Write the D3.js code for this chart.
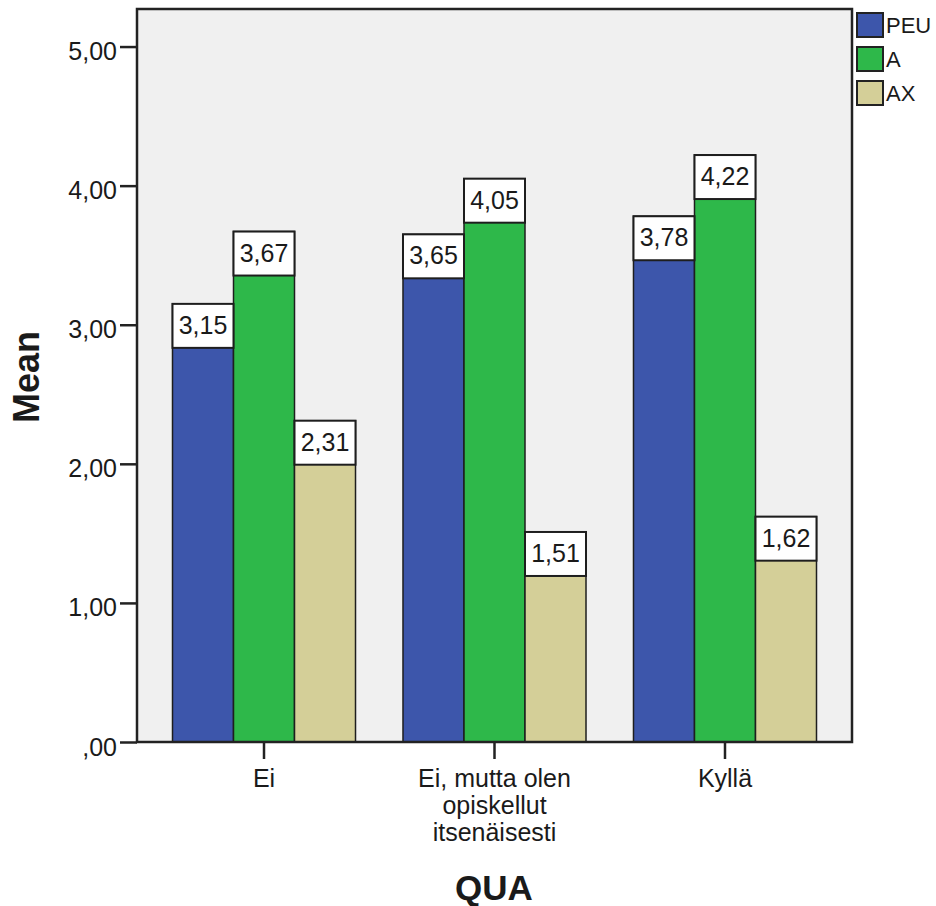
<!DOCTYPE html>
<html>
<head>
<meta charset="utf-8">
<script src="https://cdn.jsdelivr.net/npm/d3@7"></script>
<style>
  body { margin: 0; background: #fff; }
  text { font-family: "Liberation Sans", Arial, sans-serif; fill: #1a1a1a; }
</style>
</head>
<body>
<svg id="chart" width="936" height="906"></svg>
<script>
const categories = [["Ei"], ["Ei, mutta olen", "opiskellut", "itsenäisesti"], ["Kyllä"]];
const categoryKeys = ["Ei", "Ei, mutta olen opiskellut itsenäisesti", "Kyllä"];
const seriesNames = ["PEU", "A", "AX"];
const seriesColors = ["#3d56ab", "#2eb84a", "#d4cf98"];
const valuesPEU = [3.15, 3.65, 3.78];
const valuesA = [3.67, 4.05, 4.22];
const valuesAX = [2.31, 1.51, 1.62];
const yTicks = [0, 1, 2, 3, 4, 5];
const yTickLabels = [",00", "1,00", "2,00", "3,00", "4,00", "5,00"];

const seriesValues = [valuesPEU, valuesA, valuesAX];
const svg = d3.select("#chart");

const pLeft = 137, pRight = 852, pTop = 9, pBottom = 742;

const x = d3.scaleBand().domain(categoryKeys).range([pLeft, pRight]).paddingInner(0.206).paddingOuter(0.154);
const xs = d3.scaleBand().domain(seriesNames).range([0, x.bandwidth()]);
const y = d3.scaleLinear().domain([0, 5.27]).range([pBottom, pTop]);

svg.append("rect").attr("x", pLeft).attr("y", pTop).attr("width", pRight - pLeft).attr("height", pBottom - pTop)
  .attr("fill", "#f0f0f0");

const groups = svg.append("g").selectAll("g").data(categoryKeys).join("g")
  .attr("transform", d => `translate(${x(d)},0)`);

const boxH = 44;
seriesNames.forEach((s, si) => {
  groups.append("rect")
    .attr("x", xs(s))
    .attr("y", (d, ci) => y(seriesValues[si][ci]))
    .attr("width", xs.bandwidth())
    .attr("height", (d, ci) => pBottom - y(seriesValues[si][ci]))
    .attr("fill", seriesColors[si])
    .attr("stroke", "#1e1e1e").attr("stroke-width", 1.5);
});
seriesNames.forEach((s, si) => {
  groups.append("rect")
    .attr("x", xs(s))
    .attr("y", (d, ci) => y(seriesValues[si][ci]))
    .attr("width", xs.bandwidth())
    .attr("height", boxH)
    .attr("fill", "#ffffff")
    .attr("stroke", "#1e1e1e").attr("stroke-width", 2);
  groups.append("text")
    .attr("x", xs(s) + xs.bandwidth() / 2)
    .attr("y", (d, ci) => y(seriesValues[si][ci]) + 30)
    .attr("text-anchor", "middle")
    .attr("font-size", 25)
    .text((d, ci) => seriesValues[si][ci].toFixed(2).replace(".", ","));
});

svg.append("rect").attr("x", pLeft).attr("y", pTop).attr("width", pRight - pLeft).attr("height", pBottom - pTop)
  .attr("fill", "none").attr("stroke", "#222").attr("stroke-width", 2.5);

const yAxis = d3.axisLeft(y).tickValues(yTicks).tickSize(17).tickPadding(3)
  .tickFormat((d, i) => yTickLabels[i]);
const gy = svg.append("g").attr("transform", `translate(${pLeft},0)`).call(yAxis);
gy.select(".domain").remove();
gy.selectAll(".tick line").attr("stroke", "#222").attr("stroke-width", 2.5);
gy.selectAll(".tick text").attr("font-size", 25).attr("fill", "#1a1a1a")
  .attr("font-family", "Liberation Sans, Arial, sans-serif").attr("dy", "0.52em");

const xAxis = d3.axisBottom(x).tickSize(17).tickFormat("");
const gx = svg.append("g").attr("transform", `translate(0,${pBottom})`).call(xAxis);
gx.select(".domain").remove();
gx.selectAll(".tick line").attr("stroke", "#222").attr("stroke-width", 2.5);

categoryKeys.forEach((k, i) => {
  const t = svg.append("text")
    .attr("x", x(k) + x.bandwidth() / 2)
    .attr("y", 787)
    .attr("text-anchor", "middle")
    .attr("font-size", 25);
  categories[i].forEach((line, li) => {
    t.append("tspan").attr("x", x(k) + x.bandwidth() / 2).attr("dy", li === 0 ? 0 : 27).text(line);
  });
});

svg.append("text").attr("transform", `translate(39,377) rotate(-90)`)
  .attr("text-anchor", "middle").attr("font-size", 36).attr("font-weight", "bold").text("Mean");
svg.append("text").attr("x", 494).attr("y", 900)
  .attr("text-anchor", "middle").attr("font-size", 35).attr("font-weight", "bold").text("QUA");

const lg = svg.append("g").attr("transform", "translate(857,13)");
seriesNames.forEach((s, i) => {
  lg.append("rect").attr("x", 0).attr("y", i * 34).attr("width", 26).attr("height", 24)
    .attr("fill", seriesColors[i]).attr("stroke", "#222").attr("stroke-width", 2);
  lg.append("text").attr("x", 29).attr("y", i * 34 + 20).attr("font-size", 22).text(s);
});
</script>
</body>
</html>
